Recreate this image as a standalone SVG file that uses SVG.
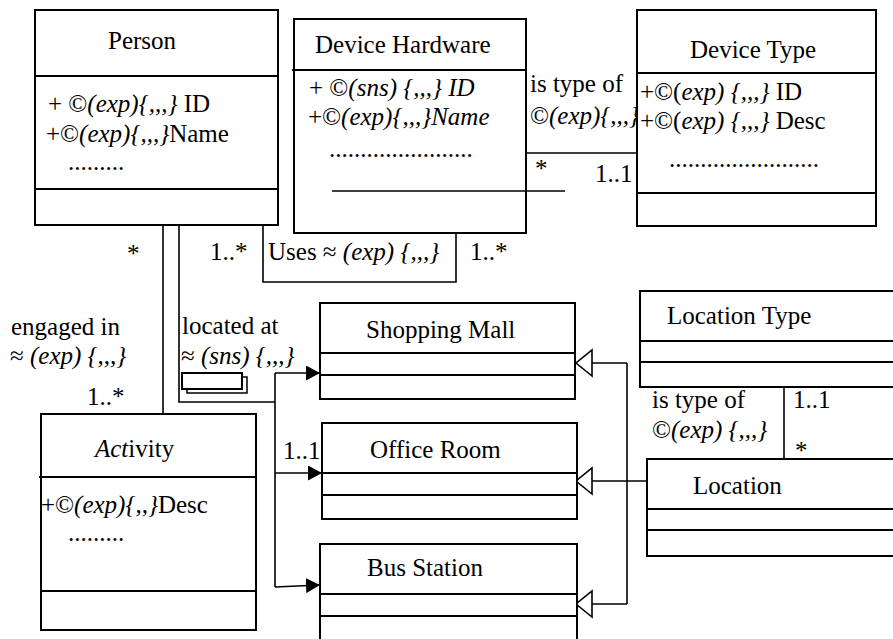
<svg xmlns="http://www.w3.org/2000/svg" width="893" height="639" viewBox="0 0 893 639">
  <style>
    text { font-family: "Liberation Serif", "Times New Roman", serif; font-size: 25px; fill: #000; }
    .i { font-style: italic; }
    .box { fill: #fff; stroke: #000; stroke-width: 2; }
    .open { fill: none; stroke: #000; stroke-width: 2; }
    .div { stroke: #000; stroke-width: 2; fill: none; }
    .ln { stroke: #000; stroke-width: 1.6; fill: none; }
    .nav { marker-end: url(#solid); }
    .gen { marker-end: url(#hollow); }
  </style>
  <defs>
    <marker id="solid" viewBox="0 0 14 15" refX="14" refY="7.5" markerWidth="14" markerHeight="15" markerUnits="userSpaceOnUse" orient="auto">
      <path d="M0,0 L14,7.5 L0,15 Z" fill="#000"/>
    </marker>
    <marker id="hollow" viewBox="-2 -2 20 30" refX="16" refY="13" markerWidth="20" markerHeight="30" markerUnits="userSpaceOnUse" orient="auto">
      <path d="M0,0 L16,13 L0,26 Z" fill="#fff" stroke="#000" stroke-width="1.6"/>
    </marker>
  </defs>

  <!-- associations, navigations and generalizations -->
  <g id="connectors">
    <!-- Person engaged in Activity -->
    <path class="ln" d="M163,225 V414"/>
    <text x="11" y="335">engaged in</text>
    <text x="10" y="364">≈ <tspan class="i">(exp) {,,,}</tspan></text>
    <text x="127" y="262">*</text>
    <text x="87" y="405">1..*</text>

    <!-- Person located at Shopping Mall / Office Room / Bus Station -->
    <path class="ln" d="M179,225 V402 H275"/>
    <path class="ln" d="M275,373 V587"/>
    <path class="ln nav" d="M275,373 H320"/>
    <path class="ln nav" d="M275,473 H322"/>
    <path class="ln nav" d="M275,587 L320,585"/>
    <text x="182" y="334">located at</text>
    <text x="181" y="364">≈ <tspan class="i">(sns) {,,,}</tspan></text>
    <rect x="187" y="377" width="60" height="16" fill="#fff" stroke="#000" stroke-width="1.5"/>
    <rect x="182" y="373" width="60" height="16" fill="#fff" stroke="#000" stroke-width="2"/>
    <text x="283" y="459">1..1</text>

    <!-- Person uses Device Hardware -->
    <path class="ln" d="M263,225 V282 H456 V233"/>
    <text x="268" y="260">Uses ≈ <tspan class="i">(exp) {,,,}</tspan></text>
    <text x="210" y="260">1..*</text>
    <text x="470" y="260">1..*</text>

    <!-- Device Hardware is type of Device Type -->
    <path class="ln" d="M527,153 H637"/>
    <path class="ln" d="M332,191 H565"/>
    <text x="530" y="92">is type of</text>
    <text x="530" y="124">©<tspan class="i">(exp){,,,}</tspan></text>
    <text x="535" y="177">*</text>
    <text x="595" y="182">1..1</text>

    <!-- Location generalizations -->
    <path class="ln" d="M627,363 V604"/>
    <path class="ln gen" d="M627,363 H576"/>
    <path class="ln gen" d="M647,481 H576"/>
    <path class="ln gen" d="M627,604 H576"/>

    <!-- Location is type of Location Type -->
    <path class="ln" d="M784,387 V459"/>
    <text x="652" y="408">is type of</text>
    <text x="652" y="438">©<tspan class="i">(exp) {,,,}</tspan></text>
    <text x="793" y="408">1..1</text>
    <text x="795" y="459">*</text>
  </g>

  <g id="person">
    <rect class="box" x="35" y="10" width="243" height="215"/>
    <path class="div" d="M35,76 H278 M35,189 H278"/>
    <text x="108" y="49">Person</text>
    <text x="48" y="112">+ ©<tspan class="i">(exp){,,,}</tspan> ID</text>
    <text x="46" y="142">+©<tspan class="i">(exp){,,,}</tspan>Name</text>
    <text x="68" y="170">.........</text>
  </g>

  <g id="device-hardware">
    <rect class="open" x="294" y="19" width="232" height="214"/>
    <path class="div" d="M292,70 H526"/>
    <text x="315" y="53">Device Hardware</text>
    <text x="309" y="96">+ ©<tspan class="i">(sns) {,,,} ID</tspan></text>
    <text x="308" y="125">+©<tspan class="i">(exp){,,,}Name</tspan></text>
    <text x="329" y="157">.......................</text>
  </g>

  <g id="device-type">
    <rect class="box" x="637" y="10" width="239" height="216"/>
    <path class="div" d="M637,73 H876 M637,193 H876"/>
    <text x="690" y="58">Device Type</text>
    <text x="640" y="100">+©(<tspan class="i">exp) {,,,}</tspan> ID</text>
    <text x="640" y="129">+©(<tspan class="i">exp) {,,,}</tspan> Desc</text>
    <text x="669" y="167">........................</text>
  </g>

  <g id="activity">
    <rect class="box" x="41" y="414" width="215" height="216"/>
    <path class="div" d="M39,477 H256 M41,591 H256"/>
    <text x="95" y="457"><tspan class="i">Act</tspan>ivity</text>
    <text x="41" y="513">+©<tspan class="i">(exp){,,}</tspan>Desc</text>
    <text x="68" y="541">.........</text>
  </g>

  <g id="shopping-mall">
    <rect class="box" x="320" y="303" width="255" height="96"/>
    <path class="div" d="M320,353 H575 M320,375 H575"/>
    <text x="366" y="338">Shopping Mall</text>
  </g>

  <g id="office-room">
    <rect class="box" x="322" y="423" width="255" height="96"/>
    <path class="div" d="M322,473 H577 M322,495 H577"/>
    <text x="370" y="458">Office Room</text>
  </g>

  <g id="bus-station">
    <rect class="box" x="320" y="544" width="257" height="110"/>
    <path class="div" d="M320,594 H577 M320,616 H577"/>
    <text x="367" y="576">Bus Station</text>
  </g>

  <g id="location-type">
    <rect class="box" x="640" y="291" width="270" height="96"/>
    <path class="div" d="M640,341 H910 M640,362 H910"/>
    <text x="667" y="324">Location Type</text>
  </g>

  <g id="location">
    <rect class="box" x="647" y="459" width="263" height="97"/>
    <path class="div" d="M647,509 H910 M647,530 H910"/>
    <text x="693" y="494">Location</text>
  </g>
</svg>
